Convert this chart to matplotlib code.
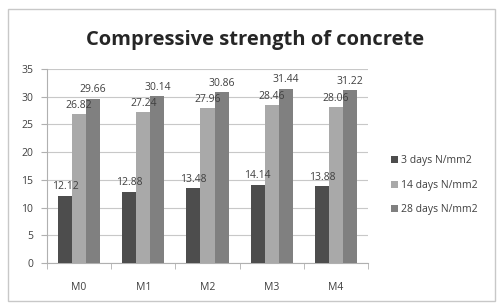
import matplotlib.pyplot as plt
import numpy as np

plt.rcParams["font.family"] = ["Open Sans", "DejaVu Sans"]

mixes = ["M0", "M1", "M2", "M3", "M4"]
days3 = [12.12, 12.88, 13.48, 14.14, 13.88]
days14 = [26.82, 27.24, 27.96, 28.46, 28.06]
days28 = [29.66, 30.14, 30.86, 31.44, 31.22]

series = [
    ("3 days N/mm2", days3, "#4d4d4d"),
    ("14 days N/mm2", days14, "#a9a9a9"),
    ("28 days N/mm2", days28, "#808080"),
]

fig = plt.figure(figsize=(4.97, 3.05), dpi=100)
# outer chart frame
fig.patches.append(plt.Rectangle((8 / 497, 4 / 305), 487 / 497, 292 / 305,
                                 transform=fig.transFigure, fill=False,
                                 edgecolor="#c8c8c8", linewidth=1))

ax = fig.add_axes([47 / 497, 42 / 305, 321 / 497, 194 / 305])

x = np.arange(len(mixes))
w = 0.22
for i, (name, vals, col) in enumerate(series):
    pos = x + (i - 1) * w
    ax.bar(pos, vals, width=w, color=col, label=name, zorder=3)
    for p, v in zip(pos, vals):
        ax.text(p, v + 0.6, f"{v:.2f}", ha="center", va="bottom",
                fontsize=7.5, color="#404040", zorder=4)

ax.set_xlim(-0.5, len(mixes) - 0.5)
ax.set_ylim(0, 35)
ax.set_yticks(range(0, 36, 5))
ax.set_xticks(x)
ax.set_xticklabels(mixes)
ax.set_xticks(np.arange(-0.5, len(mixes), 1), minor=True)
ax.tick_params(axis="x", which="major", length=0, pad=14)
ax.tick_params(axis="x", which="minor", length=4, color="#b0b0b0")
ax.tick_params(axis="y", length=4, color="#b0b0b0", pad=6)
ax.tick_params(labelsize=7.5, labelcolor="#404040")
ax.grid(axis="y", color="#c8c8c8", linewidth=0.8, zorder=0)
for s in ["top", "right"]:
    ax.spines[s].set_visible(False)
ax.spines["left"].set_color("#b0b0b0")
ax.spines["bottom"].set_color("#b0b0b0")

fig.text(255 / 497, 1 - 40 / 305, "Compressive strength of concrete",
         ha="center", va="center", fontsize=14.5, fontweight="bold",
         color="#262626")

fig.legend(loc="upper left", bbox_to_anchor=(382 / 497, 1 - 146 / 305),
           frameon=False, fontsize=7.5, handlelength=0.6, handleheight=0.6,
           handletextpad=0.3, labelspacing=1.3, labelcolor="#404040")

fig.savefig("out.png", dpi=100)
